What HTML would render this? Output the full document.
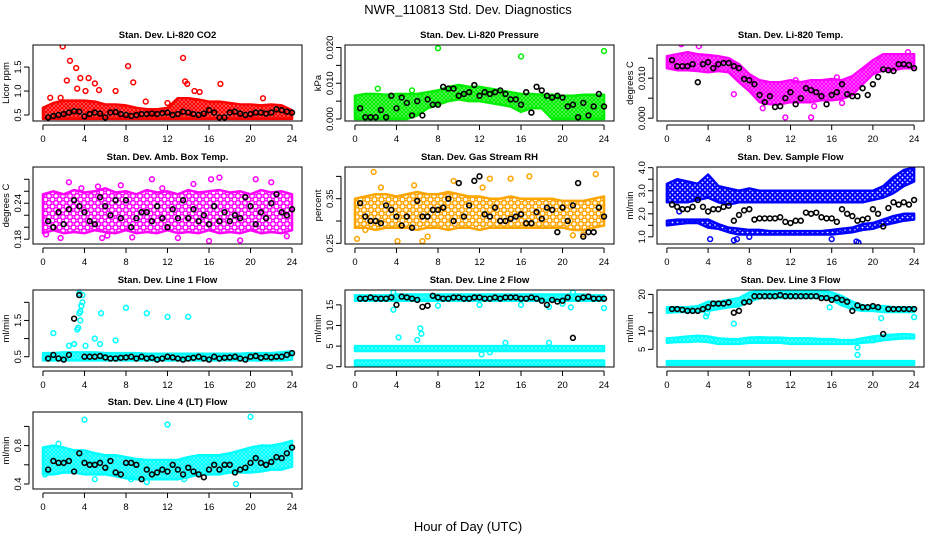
<!DOCTYPE html>
<html><head><meta charset="utf-8"><style>
html,body{margin:0;padding:0;background:#fff;}
svg{display:block;font-family:"Liberation Sans",sans-serif;}
</style></head><body>
<svg id="chart" width="936" height="540" viewBox="0 0 936 540" xmlns="http://www.w3.org/2000/svg">
<defs id="defs"></defs>
<text x="468" y="14" text-anchor="middle" font-size="13">NWR_110813  Std. Dev. Diagnostics</text>
<text x="468" y="531" text-anchor="middle" font-size="13">Hour of Day (UTC)</text>
</svg>
<script>
// ---------- data ----------
const bandHours = [0,1,2,3,4,5,6,7,8,9,10,11,12,13,14,15,16,17,18,19,20,21,22,23,24];
const meanHours = [0.5,1,1.5,2,2.5,3,3.5,4,4.5,5,5.5,6,6.5,7,7.5,8,8.5,9,9.5,10,10.5,11,11.5,12,12.5,13,13.5,14,14.5,15,15.5,16,16.5,17,17.5,18,18.5,19,19.5,20,20.5,21,21.5,22,22.5,23,23.5,24];
const xTicks = [0,4,8,12,16,20,24];

// CO2
const co2Lo = [0.42,0.42,0.42,0.42,0.42,0.42,0.42,0.42,0.42,0.42,0.42,0.42,0.42,0.42,0.42,0.42,0.42,0.42,0.42,0.42,0.42,0.42,0.42,0.42,0.42];
const co2Hi = [0.65,0.75,0.8,0.8,0.8,0.78,0.72,0.72,0.7,0.65,0.62,0.62,0.65,0.85,0.85,0.82,0.78,0.78,0.75,0.72,0.72,0.7,0.72,0.7,0.6];
const co2OutH = [1.9,2.6,3.2,3.6,4.4,2.3,5.0,8.2,8.7,13.5,13.7,13.9,17.1,0.7,1.7,7.0,9.9,12.0,21.2,15.1,14.6,3.3,4.1,5.4];
const co2OutV = [1.93,1.63,1.48,1.27,1.27,1.22,1.16,1.52,1.18,1.69,1.2,1.15,1.15,0.86,0.86,1.0,0.78,0.75,0.85,0.98,1.0,1.05,1.0,1.02];
const co2Mean = [0.45,0.48,0.5,0.52,0.55,0.58,0.57,0.47,0.52,0.55,0.53,0.45,0.55,0.56,0.52,0.50,0.48,0.50,0.52,0.52,0.53,0.52,0.54,0.55,0.50,0.52,0.57,0.55,0.52,0.50,0.53,0.60,0.55,0.45,0.45,0.55,0.57,0.53,0.50,0.52,0.55,0.55,0.53,0.55,0.62,0.60,0.57,0.55];
// Pressure
const prLo = [0,0,0,0,0,0,0.001,0.003,0.004,0.005,0.0055,0.005,0.005,0.0045,0.004,0.0035,0.002,0.003,0.003,0,0,0,0,0,0];
const prHi = [0.0065,0.007,0.007,0.0068,0.007,0.007,0.007,0.0075,0.008,0.009,0.0095,0.009,0.009,0.0085,0.008,0.0075,0.007,0.007,0.0068,0.0068,0.0065,0.0065,0.0068,0.0068,0.0068];
const prOutH = [8,16,24,2.2,5.5];
const prOutV = [0.0198,0.0175,0.019,0.0085,0.008];
const prMean = [0.003,0.0005,0.0005,0.0005,0.0025,0.0005,0.0065,0.003,0.006,0.0045,0.001,0.005,0.001,0.0055,0.004,0.004,0.009,0.0085,0.0085,0.0065,0.007,0.0075,0.0095,0.0065,0.0075,0.007,0.0075,0.008,0.007,0.0055,0.0055,0.004,0.0075,0.0018,0.009,0.008,0.0065,0.006,0.0065,0.006,0.0035,0.004,0.0005,0.0045,0.001,0.0035,0.007,0.0035];
// Li-820 temp
const tpLo = [0.0125,0.012,0.012,0.0118,0.0115,0.0118,0.0115,0.009,0.0068,0.004,0.0035,0.0035,0.004,0.004,0.004,0.0045,0.0045,0.0048,0.0058,0.0085,0.011,0.012,0.012,0.0125,0.0125];
const tpHi = [0.0155,0.016,0.0165,0.016,0.0158,0.0155,0.015,0.0135,0.011,0.0095,0.009,0.009,0.0095,0.009,0.0095,0.0095,0.0098,0.0095,0.0105,0.0125,0.0145,0.016,0.016,0.016,0.016];
const tpOutH = [11.5,14,9.3,14.3,1.4,3.1,6.5,17,23.4,12.5,16.5];
const tpOutV = [0.0002,0.0002,0.0025,0.003,0.0185,0.018,0.006,0.0038,0.0165,0.0095,0.0102];
const tpMean = [0.0145,0.013,0.013,0.013,0.0135,0.009,0.0135,0.014,0.0125,0.0135,0.0138,0.0138,0.013,0.0125,0.0098,0.0095,0.0085,0.0058,0.004,0.0055,0.0028,0.003,0.005,0.0065,0.0035,0.005,0.0075,0.007,0.0065,0.0055,0.0035,0.0058,0.0065,0.0085,0.006,0.0055,0.0055,0.0075,0.0058,0.0085,0.0103,0.0122,0.012,0.0118,0.0135,0.0135,0.0133,0.0125];
// Amb box temp
const abLo = [0.19,0.195,0.19,0.192,0.19,0.195,0.192,0.19,0.195,0.19,0.192,0.19,0.195,0.19,0.192,0.19,0.195,0.19,0.192,0.19,0.195,0.19,0.192,0.19,0.195];
const abHi = [0.255,0.26,0.255,0.262,0.258,0.26,0.265,0.258,0.26,0.255,0.262,0.258,0.26,0.255,0.262,0.258,0.26,0.262,0.258,0.26,0.255,0.262,0.258,0.26,0.255];
const abOutH = [0.3,1.7,8.6,5.7,6.2,10.5,16.2,17,20.5,2.5,22,13,16,19,23.5,3.7,5.3,11.5,7.5,14.5];
const abOutV = [0.188,0.182,0.183,0.182,0.186,0.28,0.28,0.283,0.28,0.275,0.275,0.182,0.177,0.178,0.185,0.265,0.268,0.265,0.27,0.272];
const abMean = [0.21,0.20,0.225,0.205,0.23,0.245,0.235,0.225,0.21,0.205,0.25,0.235,0.22,0.245,0.215,0.245,0.20,0.215,0.225,0.225,0.21,0.235,0.215,0.20,0.23,0.215,0.245,0.215,0.23,0.21,0.22,0.205,0.235,0.21,0.225,0.21,0.22,0.215,0.25,0.235,0.205,0.225,0.215,0.24,0.255,0.225,0.22,0.23];
// RH
const rhLo = [0.285,0.285,0.28,0.285,0.285,0.285,0.28,0.285,0.285,0.28,0.285,0.285,0.28,0.285,0.285,0.285,0.285,0.285,0.285,0.285,0.285,0.28,0.28,0.285,0.29];
const rhHi = [0.35,0.355,0.36,0.36,0.355,0.36,0.365,0.36,0.36,0.365,0.36,0.355,0.355,0.35,0.35,0.355,0.35,0.35,0.35,0.35,0.345,0.345,0.345,0.35,0.355];
const rhOutH = [0.2,4.1,6.5,1.8,13,15,23.2,16.8,9.5,2.5,21,22,7,1,5.7,12.3];
const rhOutV = [0.26,0.255,0.255,0.41,0.395,0.395,0.405,0.40,0.39,0.375,0.268,0.27,0.265,0.28,0.38,0.375];
const rhMean = [0.34,0.31,0.30,0.30,0.295,0.335,0.325,0.31,0.29,0.31,0.285,0.345,0.31,0.31,0.325,0.325,0.33,0.35,0.30,0.385,0.31,0.335,0.39,0.40,0.315,0.31,0.33,0.30,0.30,0.305,0.31,0.315,0.295,0.295,0.32,0.305,0.33,0.325,0.275,0.33,0.30,0.335,0.385,0.265,0.275,0.275,0.33,0.31];
// Sample flow
const sfUpLo = [2.5,2.5,2.5,2.6,2.7,2.5,2.4,2.5,2.5,2.5,2.5,2.5,2.5,2.5,2.5,2.5,2.5,2.5,2.5,2.5,2.6,2.7,2.9,3.2,3.4];
const sfUpHi = [3.3,3.5,3.4,3.3,3.7,3.2,3.1,3.0,3.1,3.0,3.0,3.0,3.0,3.0,3.0,3.0,3.0,3.0,3.0,3.0,3.0,3.2,3.6,3.9,4.0];
const sfLoLo = [1.5,1.55,1.6,1.6,1.4,1.35,1.2,1.1,1.1,1.1,1.1,1.1,1.1,1.1,1.1,1.1,1.1,1.15,1.2,1.3,1.35,1.5,1.6,1.7,1.75];
const sfLoHi = [1.7,1.75,1.75,1.75,1.75,1.55,1.4,1.35,1.3,1.3,1.25,1.25,1.25,1.25,1.25,1.25,1.3,1.35,1.4,1.55,1.6,1.75,1.9,2.0,2.0];
const sfOutH = [4.2,6.5,16,18.4,8,1.2,6.8,18.6];
const sfOutV = [0.9,0.85,0.9,0.8,1.0,2.1,0.9,0.75];
const sfMean = [2.4,2.3,2.2,2.2,2.3,2.6,2.3,2.1,2.2,2.2,2.3,2.35,1.7,1.95,2.15,2.2,1.75,1.8,1.8,1.8,1.8,1.85,1.65,1.6,1.7,1.7,2.05,2.0,2.05,1.85,1.8,1.8,1.65,2.2,2.0,1.9,1.7,1.75,1.8,2.2,2.0,1.45,2.25,2.5,2.4,2.5,2.4,2.6];
// Line 1 flow
const l1Lo = [0.4,0.4,0.4,0.4,0.4,0.4,0.4,0.4,0.4,0.4,0.4,0.4,0.4,0.4,0.4,0.4,0.4,0.4,0.4,0.4,0.4,0.4,0.4,0.4,0.42];
const l1Hi = [0.6,0.6,0.62,0.62,0.62,0.62,0.6,0.6,0.6,0.6,0.58,0.58,0.58,0.58,0.58,0.58,0.58,0.58,0.58,0.58,0.6,0.6,0.6,0.62,0.65];
const l1OutH = [1,3.3,3.5,3.7,3.8,4.1,5,5.6,5.5,7,8,10,12,14,2.5,3.0,3.4,3.6,3.6,3.8,3.5,3.7];
const l1OutV = [1.15,1.25,1.7,1.9,2.2,0.8,1.0,1.7,0.85,0.95,1.85,1.7,1.6,1.6,0.8,0.85,1.3,1.5,1.75,2.0,2.25,1.9];
const l1Mean = [0.45,0.55,0.45,0.42,0.55,1.55,2.2,0.5,0.5,0.5,0.52,0.48,0.45,0.45,0.47,0.48,0.5,0.45,0.5,0.45,0.47,0.42,0.45,0.5,0.48,0.45,0.42,0.45,0.47,0.5,0.45,0.42,0.5,0.45,0.47,0.48,0.5,0.45,0.42,0.5,0.52,0.47,0.5,0.48,0.5,0.5,0.55,0.6];
// Line 2 flow
const l2TopLo = [16,16,16,16,16,16,16,16,16,16,16,16,16,16,16,16,16,16,16,16,16,16,16,16,16];
const l2TopHi = [17.3,17.3,17.3,17.3,17.5,17.5,17.5,17.5,17.5,17.5,17.5,17.5,17.5,17.5,17.5,17.5,17.5,17.5,17.5,17.5,17.5,17.5,17.5,17.3,17.3];
const l2MidLo = [3.8,3.8,3.8,3.8,3.8,3.8,3.8,3.8,3.8,3.8,3.8,3.8,3.8,3.8,3.8,3.8,3.8,3.8,3.8,3.8,3.8,3.8,3.8,3.8,3.8];
const l2MidHi = [5,5,5,5,5,5,5,5,5,5,5,5,5,5,5,5,5,5,5,5,5,5,5,5,5];
const l2BotLo = [0.3,0.3,0.3,0.3,0.3,0.3,0.3,0.3,0.3,0.3,0.3,0.3,0.3,0.3,0.3,0.3,0.3,0.3,0.3,0.3,0.3,0.3,0.3,0.3,0.3];
const l2BotHi = [1.5,1.5,1.5,1.5,1.5,1.5,1.5,1.5,1.5,1.5,1.5,1.5,1.5,1.5,1.5,1.5,1.5,1.5,1.5,1.5,1.5,1.5,1.5,1.5,1.5];
const l2OutH = [3.7,3.7,4.2,6,6.3,6.4,8,12,12.2,16,18.7,18.7,20,21,20.8,24,14.5,13];
const l2OutV = [13.8,18,7.1,6.5,9.3,8,14.8,15,3,15,14.5,5.8,15.3,18,14.4,14.2,5.8,3.5];
const l2Mean = [16.5,16.5,16.8,16.5,16.5,16.5,16.8,15,17,16.8,16.5,16.2,14.5,14.8,17.2,16.8,16.5,16.5,16.8,16.8,16.5,16.5,16.8,16.8,16.5,16.5,16.8,16.5,16.8,16.8,16.8,16.5,16.5,16.8,16.5,16,15,16.2,15.8,16,16.8,7,16.5,16.8,17,16.5,16.5,16.5];
// Line 3 flow
const l3TopLo = [15,15.2,15.2,15.2,15.5,16,16.5,16.8,18,19,19,19,19,19,19,19,18.5,17,16,15.5,15.5,15.2,15.2,15.2,15.2];
const l3TopHi = [16.5,16.5,16.5,16.8,18,18,18.5,19,20.5,21,21,21,21,21,21,21,20.5,19.5,18,17,16.8,16.8,16.5,16.5,16.5];
const l3MidLo = [6.8,7,7,7.2,7,6.5,6.5,6.5,6.8,6.8,6.8,6.8,6.5,6.5,6.5,6.5,6.5,6.5,6.5,6.8,7,7.5,7.8,8,8];
const l3MidHi = [8,8.2,8.5,8.7,8.5,8,7.8,7.8,8.2,8.3,8.2,8.2,8,8,8,7.8,7.8,7.5,7.5,8,8.5,8.8,9,9.2,9];
const l3BotLo = [0.8,0.8,0.8,0.8,0.8,0.8,0.8,0.8,0.8,0.8,0.8,0.8,0.8,0.8,0.8,0.8,0.8,0.8,0.8,0.8,0.8,0.8,0.8,0.8,0.8];
const l3BotHi = [1.8,1.8,1.8,1.8,1.8,1.8,1.8,1.8,1.8,1.8,1.8,1.8,1.8,1.8,1.8,1.8,1.8,1.8,1.8,1.8,1.8,1.8,1.8,1.8,1.8];
const l3OutH = [6.5,3.8,3.9,20.8,24,18.5,18.5,20,15.8];
const l3OutV = [12,14,14.8,13.5,13.8,3.5,5.5,7.5,16.5];
const l3Mean = [16,16,15.8,15.5,15.5,15.5,16,16.5,17.5,17.5,17.5,17.8,15,15.5,17.8,18,19.5,19.5,19.5,19.5,19.5,19.8,19.5,19.5,19.5,19.5,19.5,19.5,19.5,19,19,18.5,19,18.5,18,15.5,17,16.5,16.5,16.8,16.5,9.2,16,16,16,16,16,16];
// Line 4 flow
const l4Lo = [0.5,0.5,0.52,0.52,0.5,0.5,0.5,0.48,0.46,0.45,0.45,0.45,0.45,0.45,0.47,0.5,0.5,0.5,0.52,0.52,0.52,0.53,0.55,0.55,0.58];
const l4Hi = [0.78,0.8,0.78,0.75,0.75,0.72,0.7,0.7,0.68,0.66,0.65,0.65,0.65,0.65,0.68,0.7,0.7,0.7,0.72,0.75,0.78,0.8,0.8,0.82,0.85];
const l4OutH = [4,12,20,0.2,8.5,10,13.6,5,1.5,18.6];
const l4OutV = [1.07,1.02,1.1,0.5,0.45,0.42,0.45,0.45,0.82,0.4];
const l4Mean = [0.55,0.64,0.62,0.62,0.64,0.53,0.72,0.62,0.6,0.6,0.62,0.57,0.64,0.52,0.5,0.62,0.62,0.6,0.45,0.55,0.5,0.52,0.55,0.53,0.6,0.55,0.5,0.57,0.53,0.5,0.47,0.55,0.6,0.55,0.6,0.6,0.52,0.55,0.57,0.62,0.67,0.62,0.6,0.63,0.68,0.67,0.72,0.78];

// ---------- layout ----------
const colL = [33,345,657], colR = [302,614,924];
const rowT = [45,167,290,412], rowB = [121,244,367,489];
const NS = 'http://www.w3.org/2000/svg';
const svg = document.getElementById('chart');
const defs = document.getElementById('defs');
function mk(tag, attrs, parent){const e=document.createElementNS(NS,tag);for(const k in attrs)e.setAttribute(k,attrs[k]);(parent||svg).appendChild(e);return e;}

const patterns = {};
function pattern(color, step){
  const id='p'+color.replace('#','')+step;
  if(patterns[id])return id;
  patterns[id]=1;
  const p=mk('pattern',{id:id,width:step,height:step,patternUnits:'userSpaceOnUse'},defs);
  mk('rect',{x:0,y:0,width:step,height:step,fill:'#fff'},p);
  const r=Math.min(2.3,step/2-0.3);
  [[step/2,step/2],[0,0],[step,0],[0,step],[step,step]].forEach(c=>{
    mk('circle',{cx:c[0],cy:c[1],r:r,fill:'none',stroke:color,'stroke-width':1.3},p);
  });
  return id;
}

function panel(cfg){
  const L=colL[cfg.col], R=colR[cfg.col], T=rowT[cfg.row], B=rowB[cfg.row];
  const xs=h=>L+(h+0.96)/25.92*(R-L);
  const ys=v=>B-(v-cfg.ymin)/(cfg.ymax-cfg.ymin)*(B-T);
  const g=mk('g',{});
  
  
  const clipId='clip'+cfg.name;
  const cp=mk('clipPath',{id:clipId},defs);
  mk('rect',{x:L,y:T,width:R-L,height:B-T},cp);
  const plot=mk('g',{'clip-path':'url(#'+clipId+')'},g);
  const pid=pattern(cfg.color,cfg.step);
  cfg.bands.forEach((bd,bi)=>{
    let pts=[];
    bandHours.forEach((h,i)=>pts.push(xs(h)+','+ys(bd[1][i])));
    for(let i=bandHours.length-1;i>=0;i--)pts.push(xs(bandHours[i])+','+ys(bd[0][i]));
    const poly=mk('polygon',{points:pts.join(' '),fill:'url(#'+pid+')',stroke:cfg.color,'stroke-width':2.5,'stroke-linejoin':'round'},plot);
    
    
  });
  cfg.outH.forEach((h,i)=>{
    const c=mk('circle',{cx:xs(h),cy:ys(cfg.outV[i]),r:2.4,fill:'none',stroke:cfg.color,'stroke-width':1.5},plot);
    
    
  });
  meanHours.forEach((h,i)=>{
    const c=mk('circle',{cx:xs(h),cy:ys(cfg.mean[i]),r:2.4,fill:'none',stroke:'#000','stroke-width':1.6},plot);
    
    
  });
  const box=mk('rect',{x:L,y:T,width:R-L,height:B-T,fill:'none',stroke:'#000','stroke-width':1},g);
  
  
  const xa=mk('g',{},g);
  
  
  mk('line',{x1:xs(0),x2:xs(24),y1:B+4,y2:B+4,stroke:'#000'},xa);
  xTicks.forEach(t=>{
    mk('line',{x1:xs(t),x2:xs(t),y1:B+4,y2:B+9,stroke:'#000'},xa);
    const tx=mk('text',{x:xs(t),y:B+21,'text-anchor':'middle','font-size':9.5},xa);
    tx.textContent=t;
  });
  const ya=mk('g',{},g);
  
  
  const y0=ys(cfg.ticks[0]), y1=ys(cfg.ticks[cfg.ticks.length-1]);
  mk('line',{x1:L-4,x2:L-4,y1:y0,y2:y1,stroke:'#000'},ya);
  cfg.ticks.forEach((t,i)=>{
    mk('line',{x1:L-9,x2:L-4,y1:ys(t),y2:ys(t),stroke:'#000'},ya);
    if(cfg.labels[i]!==''){
      const tx=mk('text',{x:0,y:0,'text-anchor':'middle','font-size':9.5,transform:'translate('+(L-12)+','+ys(t)+') rotate(-90)'},ya);
      tx.textContent=cfg.labels[i];
    }
  });
  const yl=mk('text',{x:0,y:0,'text-anchor':'middle','font-size':9.5,transform:'translate('+(L-24)+','+((T+B)/2)+') rotate(-90)'},g);
  yl.textContent=cfg.ylab;
  
  
  const tt=mk('text',{x:(L+R)/2,y:T-7,'text-anchor':'middle','font-size':9.5,'font-weight':'bold'},g);
  tt.textContent=cfg.title;
  
  
}

panel({name:'co2',row:0,col:0,ymin:0.375,ymax:1.96,color:'#ff0000',step:4,title:'Stan. Dev. Li-820 CO2',ylab:'Licor ppm',ticks:[0.5,1.0,1.5],labels:['0.5','1.0','1.5'],bands:[[co2Lo,co2Hi]],outH:co2OutH,outV:co2OutV,mean:co2Mean});
panel({name:'pressure',row:0,col:1,ymin:-0.00056,ymax:0.0207,color:'#00ee00',step:4,title:'Stan. Dev. Li-820 Pressure',ylab:'kPa',ticks:[0,0.005,0.01,0.015,0.02],labels:['0.000','','0.010','','0.020'],bands:[[prLo,prHi]],outH:prOutH,outV:prOutV,mean:prMean});
panel({name:'li820-temp',row:0,col:2,ymin:-0.0007,ymax:0.0183,color:'#ff00ff',step:4,title:'Stan. Dev. Li-820 Temp.',ylab:'degrees C',ticks:[0,0.005,0.01,0.015],labels:['0.000','','0.010',''],bands:[[tpLo,tpHi]],outH:tpOutH,outV:tpOutV,mean:tpMean});
panel({name:'amb-box-temp',row:1,col:0,ymin:0.172,ymax:0.3005,color:'#ff00ff',step:7,title:'Stan. Dev. Amb. Box Temp.',ylab:'degrees C',ticks:[0.18,0.2,0.22,0.24,0.26,0.28],labels:['0.18','','','0.24','',''],bands:[[abLo,abHi]],outH:abOutH,outV:abOutV,mean:abMean});
panel({name:'gas-rh',row:1,col:1,ymin:0.2485,ymax:0.421,color:'#ffa500',step:7,title:'Stan. Dev. Gas Stream RH',ylab:'percent',ticks:[0.25,0.3,0.35,0.4],labels:['0.25','','0.35',''],bands:[[rhLo,rhHi]],outH:rhOutH,outV:rhOutV,mean:rhMean});
panel({name:'sample-flow',row:1,col:2,ymin:0.69,ymax:4.03,color:'#0000ff',step:5,title:'Stan. Dev. Sample Flow',ylab:'ml/min',ticks:[1,1.5,2,2.5,3,3.5,4],labels:['1.0','','2.0','','3.0','','4.0'],bands:[[sfUpLo,sfUpHi],[sfLoLo,sfLoHi]],outH:sfOutH,outV:sfOutV,mean:sfMean});
panel({name:'line1-flow',row:2,col:0,ymin:0.216,ymax:2.34,color:'#00ffff',step:4,title:'Stan. Dev. Line 1 Flow',ylab:'ml/min',ticks:[0.5,1,1.5,2],labels:['0.5','','1.5',''],bands:[[l1Lo,l1Hi]],outH:l1OutH,outV:l1OutV,mean:l1Mean});
panel({name:'line2-flow',row:2,col:1,ymin:-0.07,ymax:18.6,color:'#00ffff',step:4,title:'Stan. Dev. Line 2 Flow',ylab:'ml/min',ticks:[0,5,10,15],labels:['0','5','10','15'],bands:[[l2TopLo,l2TopHi],[l2MidLo,l2MidHi],[l2BotLo,l2BotHi]],outH:l2OutH,outV:l2OutV,mean:l2Mean});
panel({name:'line3-flow',row:2,col:2,ymin:0.18,ymax:21.2,color:'#00ffff',step:4,title:'Stan. Dev. Line 3 Flow',ylab:'ml/min',ticks:[5,10,15,20],labels:['5','10','','20'],bands:[[l3TopLo,l3TopHi],[l3MidLo,l3MidHi],[l3BotLo,l3BotHi]],outH:l3OutH,outV:l3OutV,mean:l3Mean});
panel({name:'line4-flow',row:3,col:0,ymin:0.348,ymax:1.15,color:'#00ffff',step:4,title:'Stan. Dev. Line 4 (LT) Flow',ylab:'ml/min',ticks:[0.4,0.6,0.8,1.0],labels:['0.4','','0.8',''],bands:[[l4Lo,l4Hi]],outH:l4OutH,outV:l4OutV,mean:l4Mean});
</script>
</body></html>
